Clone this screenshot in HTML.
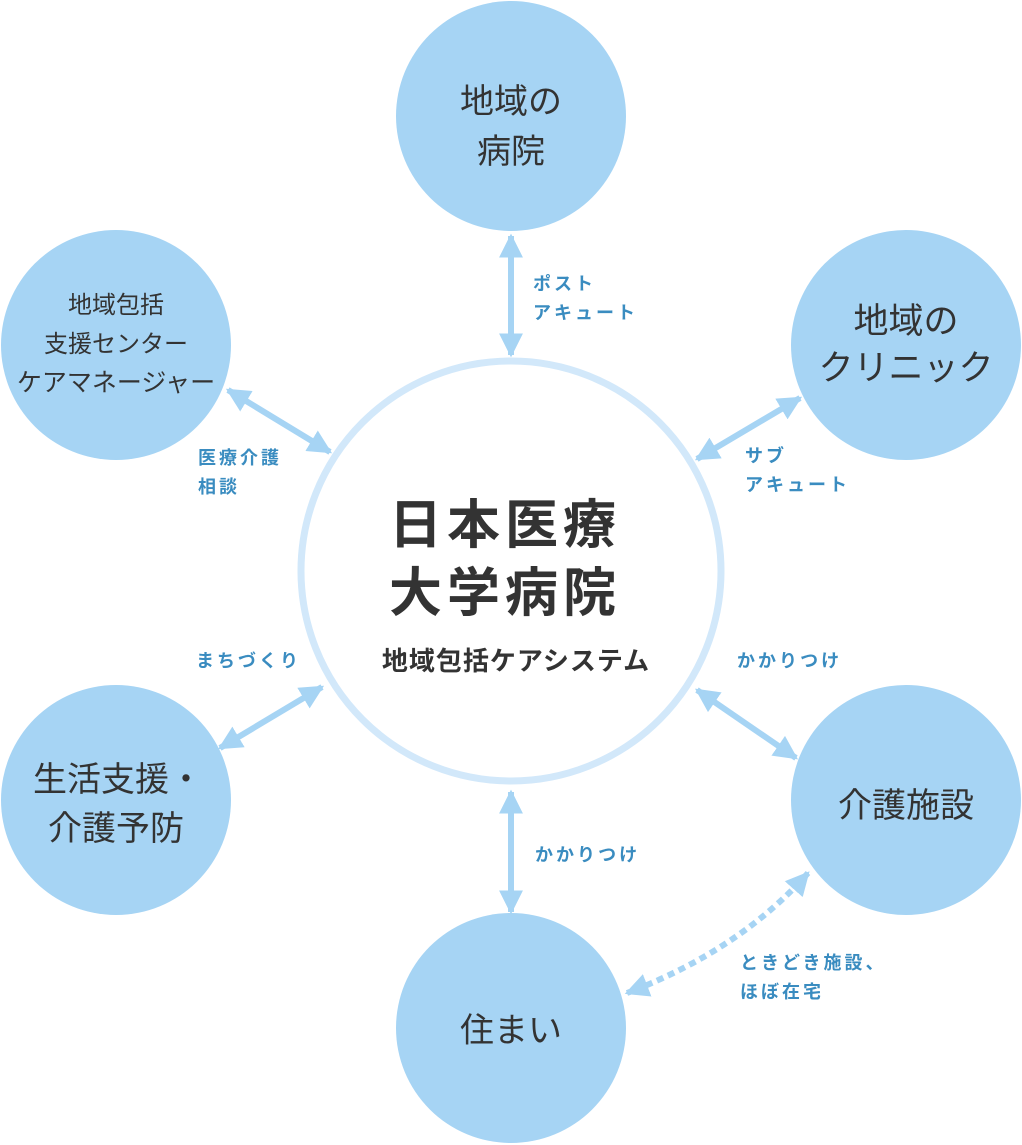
<!DOCTYPE html>
<html><head><meta charset="utf-8"><style>
html,body{margin:0;padding:0;background:#fff}
svg{display:block}
text{font-family:"Liberation Sans","Noto Sans CJK JP",sans-serif}
.c{fill:#333}
.l{fill:#3a8cc0;font-weight:bold;font-size:18px;letter-spacing:3px}
</style></head><body>
<svg width="1022" height="1145" viewBox="0 0 1022 1145" xmlns="http://www.w3.org/2000/svg">
<defs>
<marker id="a" viewBox="0 0 10 10" refX="9" refY="5" markerWidth="4" markerHeight="4" orient="auto-start-reverse" markerUnits="strokeWidth">
<path d="M0,0 L10,5 L0,10 z" fill="#a6d4f4"/></marker>
</defs>
<g fill="#a6d4f4">
<circle cx="511" cy="116" r="115"/>
<circle cx="906" cy="345" r="115"/>
<circle cx="116" cy="345" r="115"/>
<circle cx="116" cy="800" r="115"/>
<circle cx="906" cy="800" r="115"/>
<circle cx="511" cy="1028" r="115"/>
</g>
<circle cx="511" cy="571" r="210" fill="#fff" stroke="#d2e8fa" stroke-width="7"/>
<g stroke="#a6d4f4" stroke-width="6" fill="none" marker-start="url(#a)" marker-end="url(#a)">
<line x1="511" y1="236" x2="511" y2="355"/>
<line x1="511" y1="792" x2="511" y2="912"/>
<line x1="228" y1="390" x2="330" y2="452"/>
<line x1="800" y1="398" x2="697" y2="459"/>
<line x1="322" y1="687" x2="220" y2="748"/>
<line x1="697" y1="690" x2="796" y2="758"/>
<path d="M808,873 Q740,950 627,993" stroke-dasharray="7,5"/>
</g>
<g class="c" text-anchor="middle">
<text x="511" y="113" font-size="34">地域の</text>
<text x="511" y="163" font-size="34">病院</text>
<text x="906" y="333" font-size="35">地域の</text>
<text x="906" y="380" font-size="35">クリニック</text>
<text x="116" y="313" font-size="24">地域包括</text>
<text x="116" y="352" font-size="24">支援センター</text>
<text x="116" y="391" font-size="25">ケアマネージャー</text>
<text x="118" y="791" font-size="34">生活支援・</text>
<text x="116" y="840" font-size="34">介護予防</text>
<text x="906" y="817" font-size="34">介護施設</text>
<text x="511" y="1042" font-size="34">住まい</text>
<text x="505" y="543" font-size="53" font-weight="bold" letter-spacing="5">日本医療</text>
<text x="505" y="611" font-size="53" font-weight="bold" letter-spacing="5">大学病院</text>
<text x="516" y="670" font-size="26" font-weight="bold" letter-spacing="1">地域包括ケアシステム</text>
</g>
<text class="l" x="533" y="290">ポスト</text>
<text class="l" x="533" y="319">アキュート</text>
<text class="l" x="745" y="462">サブ</text>
<text class="l" x="745" y="491">アキュート</text>
<text class="l" x="198" y="464">医療介護</text>
<text class="l" x="198" y="493">相談</text>
<text class="l" x="196" y="667">まちづくり</text>
<text class="l" x="737" y="667">かかりつけ</text>
<text class="l" x="535" y="861">かかりつけ</text>
<text class="l" x="740" y="969">ときどき施設、</text>
<text class="l" x="740" y="998">ほぼ在宅</text>
</svg>
</body></html>
